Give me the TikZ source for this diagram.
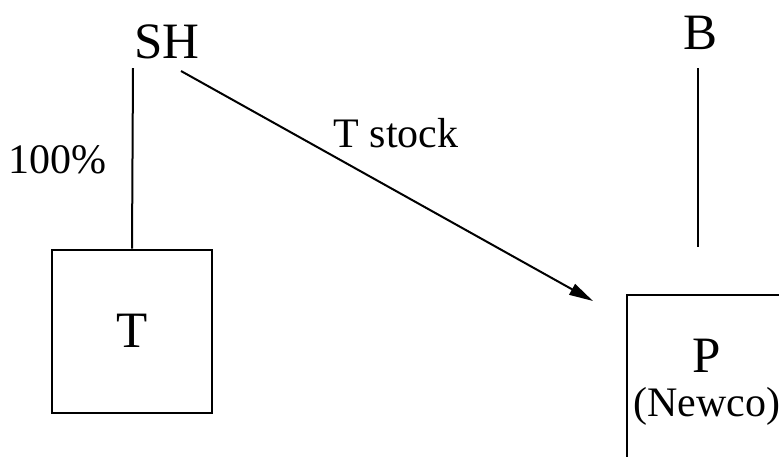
\documentclass[tikz,border=0pt]{standalone}
\usepackage{fontspec}
\setmainfont{Liberation Serif}
\usetikzlibrary{arrows.meta}

\begin{document}
\begin{tikzpicture}[x=1pt,y=-1pt,
    line/.style={line width=2pt},
    company/.style={draw,line width=2pt,minimum width=160pt,minimum height=163pt,inner sep=0pt,align=center},
    big/.style={font=\fontsize{51}{56}\selectfont},
    small/.style={font=\fontsize{42}{48}\selectfont}]
    \useasboundingbox (0,0) rectangle (779,456);
    \clip (0,0) rectangle (779,456);

    % Gesellschafter und Käufer
    \node[big,inner sep=0pt] (SH) at (167,42) {SH};
    \node[big,inner sep=0pt] (B) at (700,33) {B};

    % Zielgesellschaft und Newco
    \node[company] (T) at (132,331) {};
    \node[big] (Tname) at (T.center) {T};
    \node[company] (P) at (707,376) {};
    \node[big,inner sep=0pt] (Pname) at (707,356) {P};
    \node[small,inner sep=0pt] (Pnote) at (707,406) {(Newco)};

    \coordinate (SHfoot) at (133,68);
    \coordinate (SHout) at (181,71);
    \coordinate (Pin) at (593,301);
    \coordinate (Bfoot) at (698,68);
    \coordinate (Bend) at (698,247);

    \draw[line] (SHfoot) -- (T.north);
    \draw[line,-{Triangle[length=24pt,width=12pt]}] (SHout) -- (Pin);
    \draw[line] (Bfoot) -- (Bend);

    \node[small] (share) at (57,160) {100\%};
    \node[small] (stock) at (396,133) {T stock};
\end{tikzpicture}
\end{document}
